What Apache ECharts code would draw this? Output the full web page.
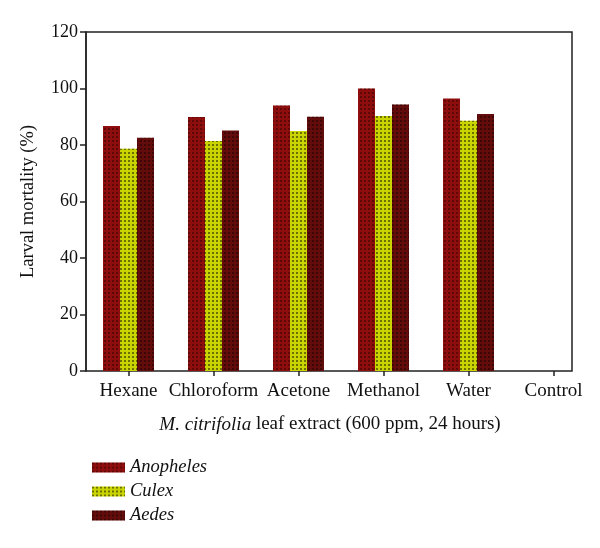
<!DOCTYPE html>
<html><head><meta charset="utf-8">
<script src="https://cdn.jsdelivr.net/npm/echarts@6/dist/echarts.min.js"></script>
<style>html,body{margin:0;padding:0;background:#fff}#c{width:600px;height:548px}</style>
</head><body><div id="c"></div>
<script>
const categories = ['Hexane', 'Chloroform', 'Acetone', 'Methanol', 'Water', 'Control'];
const anopheles = [86.7, 89.9, 94.0, 100.0, 96.5, 0];
const culex = [78.7, 81.4, 85.0, 90.3, 88.6, 0];
const aedes = [82.6, 85.1, 90.0, 94.3, 91.0, 0];
const yTicks = { min: 0, max: 120, interval: 20 };

const serif = '"Liberation Serif","DejaVu Serif",serif';
function decal(c) {
  return { symbol: 'rect', symbolSize: 1, dashArrayX: [2, 2], dashArrayY: [2, 2], color: c };
}
const chart = echarts.init(document.getElementById('c'), null, { renderer: 'canvas' });
chart.setOption({
  animation: false,
  backgroundColor: '#fff',
  grid: [
    { left: 86, top: 32, width: 510, bottom: 177, show: false, containLabel: false },
    { left: 86, top: 32, right: 28, bottom: 177, show: true, borderColor: '#222', borderWidth: 1.5, backgroundColor: 'transparent' }
  ],
  legend: {
    orient: 'vertical', left: 87, top: 453, itemWidth: 33, itemHeight: 10, itemGap: 5,
    icon: 'rect',
    textStyle: { fontFamily: serif, fontStyle: 'italic', fontSize: 18.5, lineHeight: 19, color: '#111' },
    data: ['Anopheles', 'Culex', 'Aedes']
  },
  xAxis: {
    type: 'category', data: categories, gridIndex: 0,
    axisLine: { show: false },
    axisTick: { show: true, interval: 0, alignWithLabel: true, length: 5, lineStyle: { color: '#222', width: 1.5 } },
    axisLabel: { interval: 0, fontFamily: serif, fontSize: 19, color: '#111', margin: 11 },
    name: '{i|M. citrifolia} leaf extract (600 ppm, 24 hours)',
    nameLocation: 'middle', nameGap: 44,
    nameTextStyle: {
      fontFamily: serif, fontSize: 19, color: '#111', padding: [0, 22, 0, 0],
      rich: { i: { fontFamily: serif, fontSize: 19, fontStyle: 'italic', color: '#111' } }
    }
  },
  yAxis: {
    type: 'value', gridIndex: 0, min: yTicks.min, max: yTicks.max, interval: yTicks.interval,
    splitLine: { show: false },
    axisLine: { show: true, lineStyle: { color: '#222', width: 1.5 } },
    axisTick: { show: true, length: 6, lineStyle: { color: '#222', width: 1.5 } },
    axisLabel: { fontFamily: serif, fontSize: 18, color: '#111', margin: 8 },
    name: 'Larval mortality (%)', nameLocation: 'middle', nameGap: 48,
    nameTextStyle: { fontFamily: serif, fontSize: 18.5, color: '#111' }
  },
  series: [
    { name: 'Anopheles', type: 'bar', data: anopheles, barWidth: 17, barGap: 0,
      itemStyle: { color: '#8e0e0e', decal: decal('rgba(40,0,0,0.45)') } },
    { name: 'Culex', type: 'bar', data: culex, barWidth: 17, barGap: 0,
      itemStyle: { color: '#c9d400', decal: decal('rgba(30,30,0,0.55)') } },
    { name: 'Aedes', type: 'bar', data: aedes, barWidth: 17, barGap: 0,
      itemStyle: { color: '#620c0c', decal: decal('rgba(20,0,0,0.45)') } }
  ]
});
</script></body></html>
